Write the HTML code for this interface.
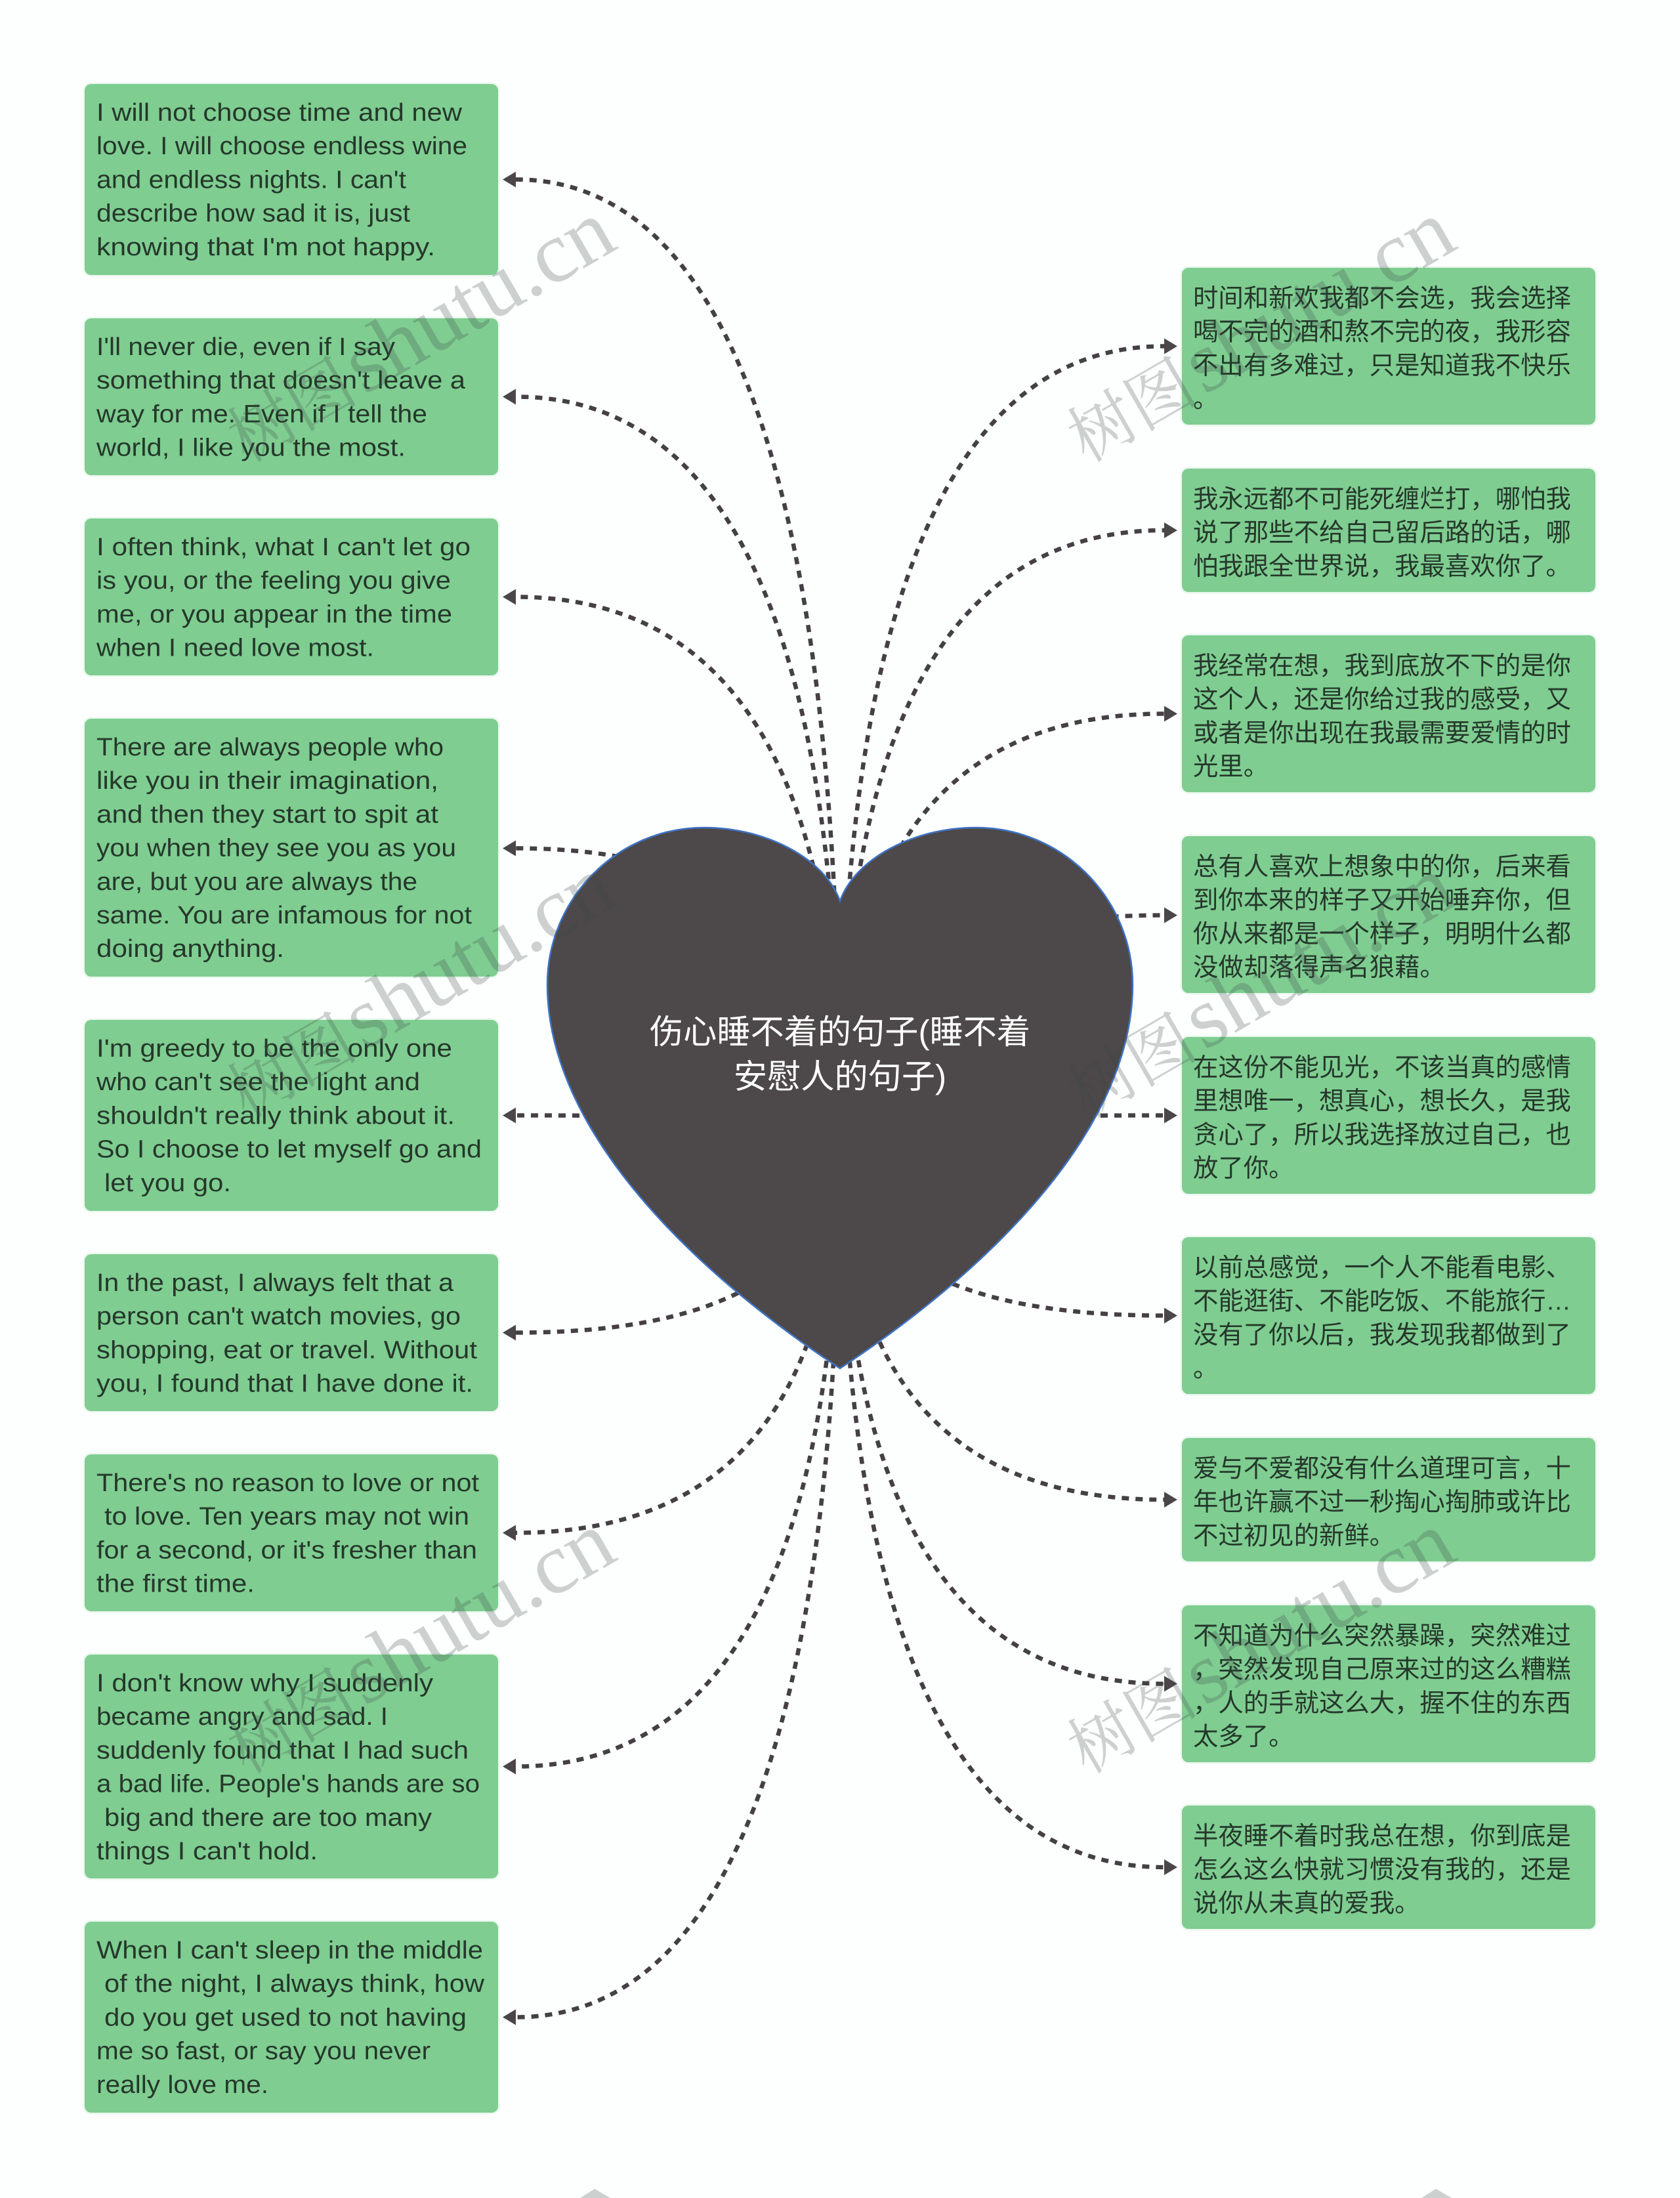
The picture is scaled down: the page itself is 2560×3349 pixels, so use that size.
<!DOCTYPE html>
<html lang="zh-CN"><head><meta charset="utf-8"><title>伤心睡不着的句子</title>
<style>
html,body{margin:0;padding:0;background:#fcfffe;width:2560px;height:3349px;overflow:hidden}
svg{display:block}
.b{fill:#7fcd91;stroke:#7fcd91;stroke-opacity:.14;stroke-width:5;paint-order:stroke}
.t{font-family:"Liberation Sans","Noto Sans CJK SC",sans-serif;font-size:38.4px;fill:#25382b}
text.t[textLength]{transform:translate(2px,-2px)}
text.t:not([textLength]){transform:translate(0,1.5px)}
.c{fill:none;stroke:#454045;stroke-width:6.5;stroke-dasharray:11 10}
.a{fill:#4b4648}
.w1{font-size:100px;fill:#3c4646;fill-opacity:.25;font-family:"Noto Serif CJK SC",serif}
.w2{font-size:132px;fill:#3c4646;fill-opacity:.25;font-family:"Liberation Serif",serif}
</style></head><body>
<svg xmlns="http://www.w3.org/2000/svg" width="2560" height="3349" viewBox="0 0 2560 3349">
<rect width="2560" height="3349" fill="#fcfffe"/>

<!-- connectors -->
<path class="c" d="M1280 1717Q1280 273.500 786 273.500"/>
<path class="c" d="M1280 1717Q1280 604.500 786 604.500"/>
<path class="c" d="M1280 1717Q1280 909.500 786 909.500"/>
<path class="c" d="M1280 1717Q1280 1292.500 786 1292.500"/>
<path class="c" d="M1280 1717Q1280 1699.500 786 1699.500"/>
<path class="c" d="M1280 1717Q1280 2030.500 786 2030.500"/>
<path class="c" d="M1280 1717Q1280 2335.500 786 2335.500"/>
<path class="c" d="M1280 1717Q1280 2691.500 786 2691.500"/>
<path class="c" d="M1280 1717Q1280 3073.500 786 3073.500"/>
<path class="c" d="M1280 1717Q1280 527.500 1774 527.500"/>
<path class="c" d="M1280 1717Q1280 808 1774 808"/>
<path class="c" d="M1280 1717Q1280 1087.500 1774 1087.500"/>
<path class="c" d="M1280 1717Q1280 1394.500 1774 1394.500"/>
<path class="c" d="M1280 1717Q1280 1699.500 1774 1699.500"/>
<path class="c" d="M1280 1717Q1280 2004.500 1774 2004.500"/>
<path class="c" d="M1280 1717Q1280 2285 1774 2285"/>
<path class="c" d="M1280 1717Q1280 2565.500 1774 2565.500"/>
<path class="c" d="M1280 1717Q1280 2845 1774 2845"/>

<!-- arrowheads -->
<polygon class="a" points="766,273.500 786,261.500 786,285.500"/>
<polygon class="a" points="766,604.500 786,592.500 786,616.500"/>
<polygon class="a" points="766,909.500 786,897.500 786,921.500"/>
<polygon class="a" points="766,1292.500 786,1280.500 786,1304.500"/>
<polygon class="a" points="766,1699.500 786,1687.500 786,1711.500"/>
<polygon class="a" points="766,2030.500 786,2018.500 786,2042.500"/>
<polygon class="a" points="766,2335.500 786,2323.500 786,2347.500"/>
<polygon class="a" points="766,2691.500 786,2679.500 786,2703.500"/>
<polygon class="a" points="766,3073.500 786,3061.500 786,3085.500"/>
<polygon class="a" points="1794,527.500 1774,515.500 1774,539.500"/>
<polygon class="a" points="1794,808 1774,796 1774,820"/>
<polygon class="a" points="1794,1087.500 1774,1075.500 1774,1099.500"/>
<polygon class="a" points="1794,1394.500 1774,1382.500 1774,1406.500"/>
<polygon class="a" points="1794,1699.500 1774,1687.500 1774,1711.500"/>
<polygon class="a" points="1794,2004.500 1774,1992.500 1774,2016.500"/>
<polygon class="a" points="1794,2285 1774,2273 1774,2297"/>
<polygon class="a" points="1794,2565.500 1774,2553.500 1774,2577.500"/>
<polygon class="a" points="1794,2845 1774,2833 1774,2857"/>

<!-- heart -->
<path d="M1280 1373C1258 1310 1170 1261 1073 1261C940 1261 834 1370 834 1500C834 1725 1060 1940 1280 2085C1500 1940 1726 1725 1726 1500C1726 1370 1620 1261 1487 1261C1390 1261 1302 1310 1280 1373Z" fill="#4d4849" stroke="#3f73c4" stroke-width="2.500"/>
<text x="1280" y="1590" text-anchor="middle" font-family="'Liberation Sans','Noto Sans CJK SC',sans-serif" font-size="51.200" fill="#fff">伤心睡不着的句子(睡不着</text>
<text x="1280" y="1658" text-anchor="middle" font-family="'Liberation Sans','Noto Sans CJK SC',sans-serif" font-size="51.200" fill="#fff">安慰人的句子)</text>

<!-- left boxes -->
<rect class="b" x="129" y="128" width="630" height="291" rx="10"/>
<text class="t" x="145" y="186" textLength="557" lengthAdjust="spacingAndGlyphs">I will not choose time and new</text>
<text class="t" x="145" y="237.200" textLength="565" lengthAdjust="spacingAndGlyphs">love. I will choose endless wine</text>
<text class="t" x="145" y="288.400" textLength="472" lengthAdjust="spacingAndGlyphs">and endless nights. I can't</text>
<text class="t" x="145" y="339.600" textLength="478" lengthAdjust="spacingAndGlyphs">describe how sad it is, just</text>
<text class="t" x="145" y="390.800" textLength="516" lengthAdjust="spacingAndGlyphs">knowing that I'm not happy.</text>

<rect class="b" x="129" y="485" width="630" height="239" rx="10"/>
<text class="t" x="145" y="543" textLength="455" lengthAdjust="spacingAndGlyphs">I'll never die, even if I say</text>
<text class="t" x="145" y="594.200" textLength="562" lengthAdjust="spacingAndGlyphs">something that doesn't leave a</text>
<text class="t" x="145" y="645.400" textLength="504" lengthAdjust="spacingAndGlyphs">way for me. Even if I tell the</text>
<text class="t" x="145" y="696.600" textLength="471" lengthAdjust="spacingAndGlyphs">world, I like you the most.</text>

<rect class="b" x="129" y="790" width="630" height="239" rx="10"/>
<text class="t" x="145" y="848" textLength="570" lengthAdjust="spacingAndGlyphs">I often think, what I can't let go</text>
<text class="t" x="145" y="899.200" textLength="540" lengthAdjust="spacingAndGlyphs">is you, or the feeling you give</text>
<text class="t" x="145" y="950.400" textLength="542" lengthAdjust="spacingAndGlyphs">me, or you appear in the time</text>
<text class="t" x="145" y="1001.600" textLength="423" lengthAdjust="spacingAndGlyphs">when I need love most.</text>

<rect class="b" x="129" y="1095" width="630" height="393" rx="10"/>
<text class="t" x="145" y="1153" textLength="529" lengthAdjust="spacingAndGlyphs">There are always people who</text>
<text class="t" x="145" y="1204.200" textLength="521" lengthAdjust="spacingAndGlyphs">like you in their imagination,</text>
<text class="t" x="145" y="1255.400" textLength="521" lengthAdjust="spacingAndGlyphs">and then they start to spit at</text>
<text class="t" x="145" y="1306.600" textLength="548" lengthAdjust="spacingAndGlyphs">you when they see you as you</text>
<text class="t" x="145" y="1357.800" textLength="489" lengthAdjust="spacingAndGlyphs">are, but you are always the</text>
<text class="t" x="145" y="1409" textLength="572" lengthAdjust="spacingAndGlyphs">same. You are infamous for not</text>
<text class="t" x="145" y="1460.200" textLength="286" lengthAdjust="spacingAndGlyphs">doing anything.</text>

<rect class="b" x="129" y="1554" width="630" height="291" rx="10"/>
<text class="t" x="145" y="1612" textLength="542" lengthAdjust="spacingAndGlyphs">I'm greedy to be the only one</text>
<text class="t" x="145" y="1663.200" textLength="493" lengthAdjust="spacingAndGlyphs">who can't see the light and</text>
<text class="t" x="145" y="1714.400" textLength="546" lengthAdjust="spacingAndGlyphs">shouldn't really think about it.</text>
<text class="t" x="145" y="1765.600" textLength="587" lengthAdjust="spacingAndGlyphs">So I choose to let myself go and</text>
<text class="t" x="157" y="1816.800" textLength="193" lengthAdjust="spacingAndGlyphs">let you go.</text>

<rect class="b" x="129" y="1911" width="630" height="239" rx="10"/>
<text class="t" x="145" y="1969" textLength="544" lengthAdjust="spacingAndGlyphs">In the past, I always felt that a</text>
<text class="t" x="145" y="2020.200" textLength="555" lengthAdjust="spacingAndGlyphs">person can't watch movies, go</text>
<text class="t" x="145" y="2071.400" textLength="580" lengthAdjust="spacingAndGlyphs">shopping, eat or travel. Without</text>
<text class="t" x="145" y="2122.600" textLength="574" lengthAdjust="spacingAndGlyphs">you, I found that I have done it.</text>

<rect class="b" x="129" y="2216" width="630" height="239" rx="10"/>
<text class="t" x="145" y="2274" textLength="583" lengthAdjust="spacingAndGlyphs">There's no reason to love or not</text>
<text class="t" x="157" y="2325.200" textLength="556" lengthAdjust="spacingAndGlyphs">to love. Ten years may not win</text>
<text class="t" x="145" y="2376.400" textLength="580" lengthAdjust="spacingAndGlyphs">for a second, or it's fresher than</text>
<text class="t" x="145" y="2427.600" textLength="241" lengthAdjust="spacingAndGlyphs">the first time.</text>

<rect class="b" x="129" y="2521" width="630" height="341" rx="10"/>
<text class="t" x="145" y="2579" textLength="513" lengthAdjust="spacingAndGlyphs">I don't know why I suddenly</text>
<text class="t" x="145" y="2630.200" textLength="444" lengthAdjust="spacingAndGlyphs">became angry and sad. I</text>
<text class="t" x="145" y="2681.400" textLength="567" lengthAdjust="spacingAndGlyphs">suddenly found that I had such</text>
<text class="t" x="145" y="2732.600" textLength="584" lengthAdjust="spacingAndGlyphs">a bad life. People's hands are so</text>
<text class="t" x="157" y="2783.800" textLength="499" lengthAdjust="spacingAndGlyphs">big and there are too many</text>
<text class="t" x="145" y="2835" textLength="337" lengthAdjust="spacingAndGlyphs">things I can't hold.</text>

<rect class="b" x="129" y="2928" width="630" height="291" rx="10"/>
<text class="t" x="145" y="2986" textLength="589" lengthAdjust="spacingAndGlyphs">When I can't sleep in the middle</text>
<text class="t" x="157" y="3037.200" textLength="579" lengthAdjust="spacingAndGlyphs">of the night, I always think, how</text>
<text class="t" x="157" y="3088.400" textLength="552" lengthAdjust="spacingAndGlyphs">do you get used to not having</text>
<text class="t" x="145" y="3139.600" textLength="509" lengthAdjust="spacingAndGlyphs">me so fast, or say you never</text>
<text class="t" x="145" y="3190.800" textLength="262" lengthAdjust="spacingAndGlyphs">really love me.</text>

<!-- right boxes -->
<rect class="b" x="1801" y="408" width="630" height="239" rx="10"/>
<text class="t" x="1818" y="466">时间和新欢我都不会选，我会选择</text>
<text class="t" x="1818" y="517.200">喝不完的酒和熬不完的夜，我形容</text>
<text class="t" x="1818" y="568.400">不出有多难过，只是知道我不快乐</text>
<text class="t" x="1818" y="619.600">。</text>

<rect class="b" x="1801" y="714" width="630" height="188" rx="10"/>
<text class="t" x="1818" y="772">我永远都不可能死缠烂打，哪怕我</text>
<text class="t" x="1818" y="823.200">说了那些不给自己留后路的话，哪</text>
<text class="t" x="1818" y="874.400">怕我跟全世界说，我最喜欢你了。</text>

<rect class="b" x="1801" y="968" width="630" height="239" rx="10"/>
<text class="t" x="1818" y="1026">我经常在想，我到底放不下的是你</text>
<text class="t" x="1818" y="1077.200">这个人，还是你给过我的感受，又</text>
<text class="t" x="1818" y="1128.400">或者是你出现在我最需要爱情的时</text>
<text class="t" x="1818" y="1179.600">光里。</text>

<rect class="b" x="1801" y="1274" width="630" height="239" rx="10"/>
<text class="t" x="1818" y="1332">总有人喜欢上想象中的你，后来看</text>
<text class="t" x="1818" y="1383.200">到你本来的样子又开始唾弃你，但</text>
<text class="t" x="1818" y="1434.400">你从来都是一个样子，明明什么都</text>
<text class="t" x="1818" y="1485.600">没做却落得声名狼藉。</text>

<rect class="b" x="1801" y="1580" width="630" height="239" rx="10"/>
<text class="t" x="1818" y="1638">在这份不能见光，不该当真的感情</text>
<text class="t" x="1818" y="1689.200">里想唯一，想真心，想长久，是我</text>
<text class="t" x="1818" y="1740.400">贪心了，所以我选择放过自己，也</text>
<text class="t" x="1818" y="1791.600">放了你。</text>

<rect class="b" x="1801" y="1885" width="630" height="239" rx="10"/>
<text class="t" x="1818" y="1943">以前总感觉，一个人不能看电影、</text>
<text class="t" x="1818" y="1994.200">不能逛街、不能吃饭、不能旅行…</text>
<text class="t" x="1818" y="2045.400">没有了你以后，我发现我都做到了</text>
<text class="t" x="1818" y="2096.600">。</text>

<rect class="b" x="1801" y="2191" width="630" height="188" rx="10"/>
<text class="t" x="1818" y="2249">爱与不爱都没有什么道理可言，十</text>
<text class="t" x="1818" y="2300.200">年也许赢不过一秒掏心掏肺或许比</text>
<text class="t" x="1818" y="2351.400">不过初见的新鲜。</text>

<rect class="b" x="1801" y="2446" width="630" height="239" rx="10"/>
<text class="t" x="1818" y="2504">不知道为什么突然暴躁，突然难过</text>
<text class="t" x="1818" y="2555.200">，突然发现自己原来过的这么糟糕</text>
<text class="t" x="1818" y="2606.400">，人的手就这么大，握不住的东西</text>
<text class="t" x="1818" y="2657.600">太多了。</text>

<rect class="b" x="1801" y="2751" width="630" height="188" rx="10"/>
<text class="t" x="1818" y="2809">半夜睡不着时我总在想，你到底是</text>
<text class="t" x="1818" y="2860.200">怎么这么快就习惯没有我的，还是</text>
<text class="t" x="1818" y="2911.400">说你从未真的爱我。</text>

<!-- watermarks -->
<text class="w1" transform="translate(375,706) rotate(-30)">树图</text>
<text class="w2" transform="translate(555,602) rotate(-30)" textLength="450" lengthAdjust="spacingAndGlyphs">shutu.cn</text>
<text class="w1" transform="translate(1655,706) rotate(-30)">树图</text>
<text class="w2" transform="translate(1835,602) rotate(-30)" textLength="450" lengthAdjust="spacingAndGlyphs">shutu.cn</text>
<text class="w1" transform="translate(375,1705) rotate(-30)">树图</text>
<text class="w2" transform="translate(555,1601) rotate(-30)" textLength="450" lengthAdjust="spacingAndGlyphs">shutu.cn</text>
<text class="w1" transform="translate(1655,1705) rotate(-30)">树图</text>
<text class="w2" transform="translate(1835,1601) rotate(-30)" textLength="450" lengthAdjust="spacingAndGlyphs">shutu.cn</text>
<text class="w1" transform="translate(375,2704) rotate(-30)">树图</text>
<text class="w2" transform="translate(555,2600) rotate(-30)" textLength="450" lengthAdjust="spacingAndGlyphs">shutu.cn</text>
<text class="w1" transform="translate(1655,2704) rotate(-30)">树图</text>
<text class="w2" transform="translate(1835,2600) rotate(-30)" textLength="450" lengthAdjust="spacingAndGlyphs">shutu.cn</text>
<path d="M884 3349L906 3335L930 3349Z M2166 3349L2188 3335L2212 3349Z" fill="#3c4646" fill-opacity=".25"/>
</svg>
</body></html>
